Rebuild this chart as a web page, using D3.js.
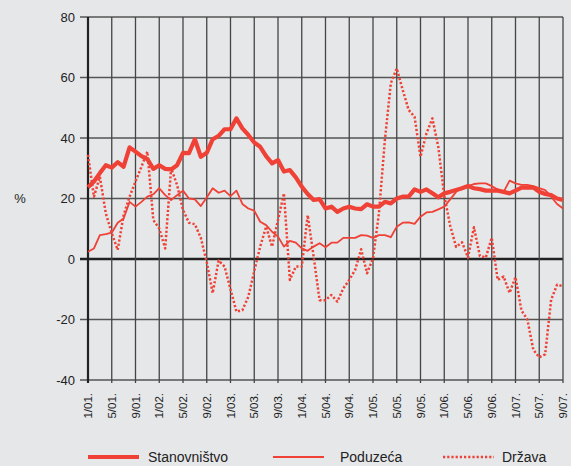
<!DOCTYPE html>
<html>
<head>
<meta charset="utf-8">
<script src="https://cdn.jsdelivr.net/npm/d3@7"></script>
<style>
  body { margin: 0; background: #e6e7e9; }
  svg { display: block; font-family: "Liberation Sans", Arial, sans-serif; }
</style>
</head>
<body>
<div id="chart"></div>
<script>
// monthly series, 1/2001 .. 9/2007
const tickLabels = ["1/01.", "5/01.", "9/01.", "1/02.", "5/02.", "9/02.", "1/03.", "5/03.", "9/03.", "1/04.",
  "5/04.", "9/04.", "1/05.", "5/05.", "9/05.", "1/06.", "5/06.", "9/06.", "1/07.", "5/07.", "9/07."];

const stanovnistvo = [23.7, 25.6, 28.4, 31, 30.2, 32, 30.5, 36.9, 35.5, 34,
  33, 29.8, 31, 29.8, 29.6, 31, 35.1, 35, 39.6, 33.8,
  35.1, 39.6, 40.7, 42.9, 42.9, 46.5, 43.2, 41, 38.5, 37.1,
  34, 31.6, 32.7, 28.9, 29.4, 27, 23.9, 21.5, 19.5, 19.8,
  16.7, 17.3, 15.6, 16.7, 17.3, 16.7, 16.5, 18.1, 17.3, 17.3,
  18.9, 18.4, 20, 20.6, 20.6, 23, 22.2, 23, 21.7, 20.4,
  21.7, 22.2, 22.8, 23.4, 24.1, 23.4, 23.1, 22.6, 22.6, 22.6,
  22.2, 21.7, 22.6, 23.6, 23.6, 23.6, 22.2, 21.5, 21.1, 20, 19.5];

const poduzeca = [2.4, 3.5, 7.9, 8.2, 8.7, 12, 13.4, 18.9, 17.3, 18.9,
  20.6, 21.4, 23.4, 21.1, 19.5, 21.1, 22.6, 20, 19.7, 17.5,
  20.3, 23.4, 21.9, 22.6, 20.8, 22.6, 18.2, 16.7, 16, 12.3,
  11.2, 9, 7.4, 4.1, 6, 5.4, 3.5, 2.7, 4.1, 5.2,
  3.9, 5.4, 5.4, 7, 7, 7, 7.9, 7.7, 7, 7.9,
  7.9, 7.2, 10.7, 12, 12.1, 11.6, 14, 15.4, 15.6, 16.4,
  17.3, 19.7, 22.2, 23.7, 24.1, 24.8, 25, 25, 24.1, 23,
  22.2, 25.9, 25, 24.5, 24.5, 24.1, 23.4, 22.8, 20.6, 18.2, 16.7];

const drzava = [34.4, 20.6, 27.2, 15.1, 8.5, 3, 14.5, 20.6, 25.6, 30.5,
  35.5, 12.9, 10.1, 3.5, 30, 24.5, 16.2, 12, 11.5, 7,
  -1, -11.3, -0.5, -2.5, -10, -17.4, -16.9, -12.5, -4, 4.1,
  10.7, 4.1, 12.9, 21.7, -6.9, -2.5, -2.5, 14.5, 0.8, -13.6,
  -13.6, -11.9, -14.1, -9.7, -6.9, -3.6, 3.2, -4.7, 0.2, 15.1,
  39.3, 58.1, 63, 55.9, 49.3, 47, 33.8, 41.5, 46.5, 37,
  21, 11, 4, 5.5, 0.5, 10.5, 1, 0.5, 7, -6.9,
  -5.8, -11.2, -6, -17, -20, -30, -32.5, -31.5, -13.5, -8.5, -9];

const seriesNames = ["Stanovništvo", "Poduzeća", "Država"];
const yTicks = [-40, -20, 0, 20, 40, 60, 80];

const width = 571, height = 466;
const red = "#ef4136";
const svg = d3.select("#chart").append("svg").attr("width", width).attr("height", height);

const x = d3.scaleLinear().domain([0, stanovnistvo.length - 1]).range([88, 563]);
const y = d3.scaleLinear().domain([-40, 80]).range([380, 17]);

// horizontal grid + left ticks
svg.selectAll(".hgrid").data(yTicks).join("line")
  .attr("x1", 80).attr("x2", 563)
  .attr("y1", d => y(d)).attr("y2", d => y(d))
  .attr("stroke", d => d === 0 ? "#222" : "#555")
  .attr("stroke-width", d => d === 0 ? 2.5 : 1.4);

// vertical grid, one per tick label (every 4 months)
const tickIdx = tickLabels.map((d, i) => i * 4);
svg.selectAll(".vgrid").data(tickIdx).join("line")
  .attr("x1", d => x(d)).attr("x2", d => x(d))
  .attr("y1", y(80)).attr("y2", 383)
  .attr("stroke", (d, i) => i === 0 ? "#222" : "#444")
  .attr("stroke-width", (d, i) => i === 0 ? 2.2 : 1.3);

// y labels
svg.selectAll(".ylab").data(yTicks).join("text")
  .attr("x", 75).attr("y", d => y(d)).attr("dy", "0.35em")
  .attr("text-anchor", "end").attr("font-size", 13).attr("fill", "#222")
  .text(d => d);

svg.append("text").attr("x", 20).attr("y", y(20)).attr("dy", "0.35em")
  .attr("text-anchor", "middle").attr("font-size", 13).attr("fill", "#222").text("%");

// x labels, rotated
svg.selectAll(".xlab").data(tickLabels).join("text")
  .attr("transform", (d, i) => `translate(${x(i * 4)},393) rotate(-90)`)
  .attr("dy", "0.35em").attr("text-anchor", "end")
  .attr("font-size", 11.5).attr("fill", "#222")
  .text(d => d);

// lines
const line = d3.line().x((d, i) => x(i)).y(d => y(d));
const styles = [
  { data: stanovnistvo, w: 4.2, dash: null },
  { data: poduzeca, w: 1.8, dash: null },
  { data: drzava, w: 2.5, dash: "2.2,2" }
];
styles.forEach(s => {
  svg.append("path").datum(s.data)
    .attr("d", line)
    .attr("fill", "none").attr("stroke", red)
    .attr("stroke-width", s.w)
    .attr("stroke-linejoin", "round")
    .attr("stroke-dasharray", s.dash);
});

// legend
const legX = [88, 273, 443];
const lg = svg.selectAll(".leg").data(seriesNames).join("g")
  .attr("transform", (d, i) => `translate(${legX[i]},457)`);
lg.append("line").attr("x1", 0).attr("x2", 51).attr("y1", 0).attr("y2", 0)
  .attr("stroke", red)
  .attr("stroke-width", (d, i) => styles[i].w)
  .attr("stroke-dasharray", (d, i) => styles[i].dash);
lg.append("text").attr("x", (d, i) => [60, 67, 59][i]).attr("y", 0).attr("dy", "0.35em")
  .attr("font-size", 14).attr("fill", "#222").text(d => d);
</script>
</body>
</html>
